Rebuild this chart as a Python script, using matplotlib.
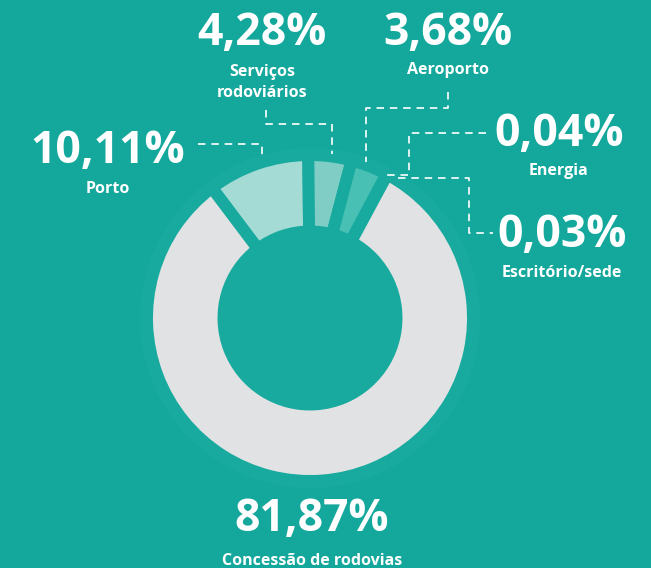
import matplotlib
matplotlib.use('Agg')
import matplotlib.pyplot as plt
from matplotlib.patches import Circle

plt.rcParams['font.family'] = ['Open Sans', 'DejaVu Sans']

# share of each business (%), drawn clockwise starting from Porto
categories = ['Porto', 'Serviços\nrodoviários', 'Aeroporto', 'Energia', 'Escritório/sede',
              'Concessão de rodovias']
values = [10.11, 4.28, 3.68, 0.04, 0.03, 81.87]
colors = ['#a5dbd5', '#7fcdc4', '#48c0b3', '#48c0b3', '#48c0b3', '#e1e2e4']

BG = '#14a89c'
HALO = '#18aa9e'
W, H = 651, 568

fig = plt.figure(figsize=(W / 100, H / 100), dpi=100, facecolor=BG)
ax = fig.add_axes([0, 0, 1, 1])
ax.set_facecolor(BG)


def Y(y):
    # picture coords (y down) -> axes coords (y up)
    return H - y


cx, cy = 310, Y(318)
r_out, r_in = 163, 86.5

# faint halo behind the ring
ax.add_patch(Circle((cx, cy), 170, color=HALO, zorder=0, lw=0))

ax.pie(values, colors=colors, startangle=127, counterclock=False,
       center=(cx, cy), radius=r_out,
       wedgeprops=dict(width=r_out - r_in, edgecolor=HALO, linewidth=8.6))

ax.set_xlim(0, W)
ax.set_ylim(0, H)
ax.set_aspect('equal')
ax.axis('off')


def pct(v):
    return f'{v:.2f}'.replace('.', ',') + '%'


# (x centre, percent baseline, label baseline) per category, picture coords
label_pos = [
    (108, 163, 193),
    (262, 45, 97),
    (448, 45, 74),
    (559, 146, 175),
    (562, 247, 277),
    (312, 531, 565),
]
for cat, v, (x, yp, yl) in zip(categories, values, label_pos):
    ax.text(x, Y(yp), pct(v), color='white', fontsize=32, fontweight='bold',
            ha='center', va='baseline')
    ax.text(x, Y(yl), cat, color='white', fontsize=11.5, fontweight='bold',
            ha='center', va='baseline', linespacing=1.45)

# dashed leader lines
leaders = [
    [(198, 144), (262, 144), (262, 159)],
    [(266, 110), (266, 124), (332, 124), (332, 154)],
    [(448, 92), (448, 108), (366, 108), (366, 162)],
    [(486, 133), (409, 133), (409, 175), (383, 175)],
    [(398, 178), (469, 178), (469, 233), (493, 233)],
]
for pts in leaders:
    xs = [p[0] for p in pts]
    ys = [Y(p[1]) for p in pts]
    ax.plot(xs, ys, color='white', lw=1.2, dashes=(4.5, 3.5))

fig.savefig('out.png', dpi=100, facecolor=BG)
